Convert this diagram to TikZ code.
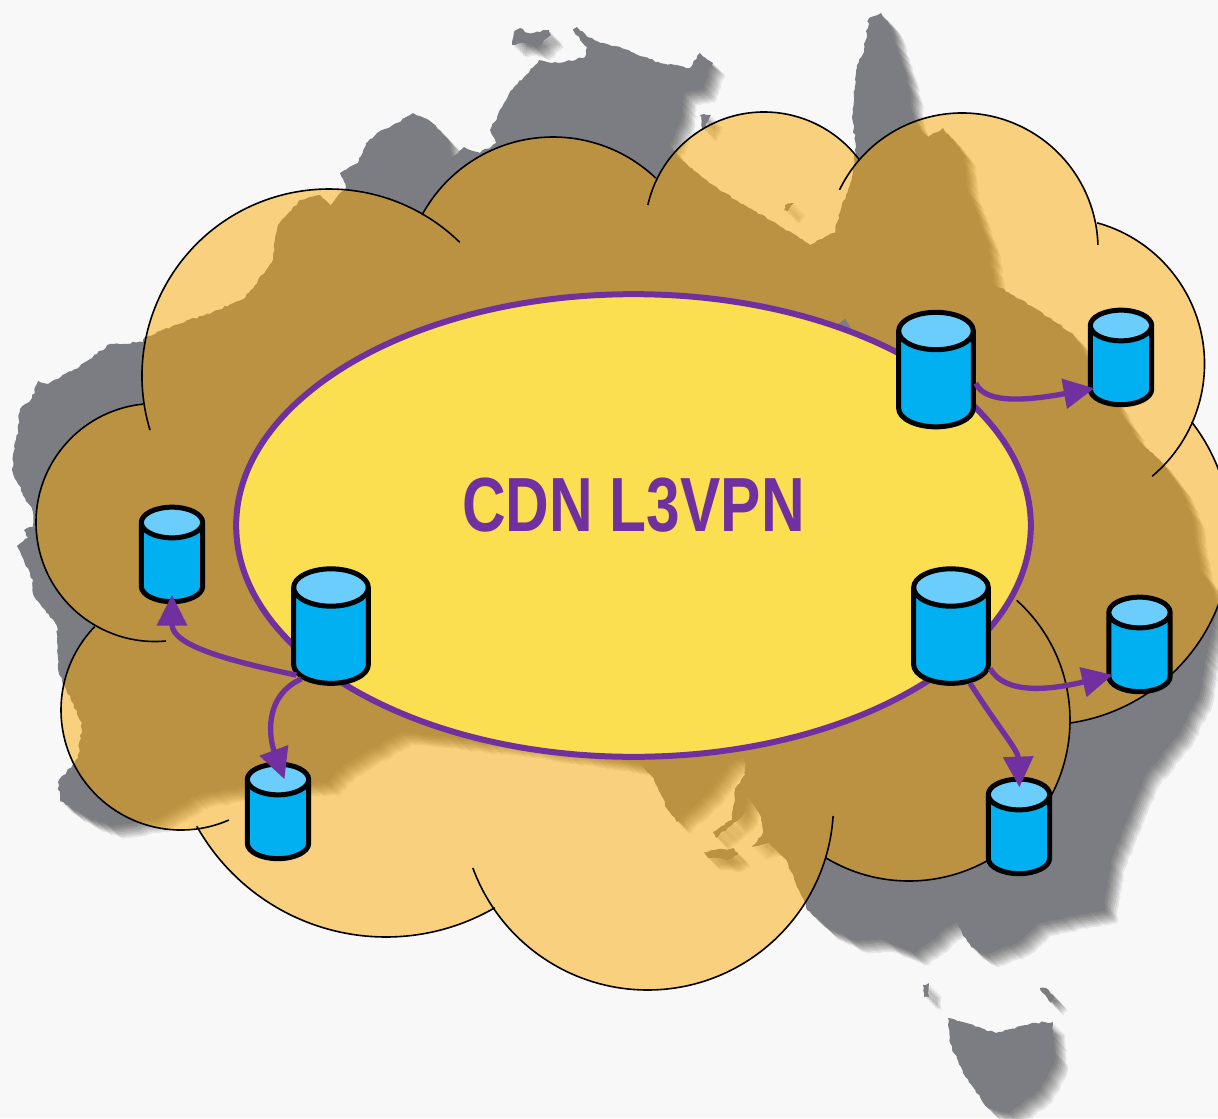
\documentclass[tikz,border=0pt]{standalone}
\usepackage{fontspec}
\setmainfont{Liberation Sans}
\usetikzlibrary{shapes.geometric,arrows.meta,decorations.pathmorphing}
\definecolor{pagebg}{HTML}{F8F8F8}
\definecolor{landgrey}{HTML}{7C7D82}
\definecolor{cloudtint}{RGB}{252,168,0}
\definecolor{ringfill}{HTML}{FBDF50}
\definecolor{vpnpurple}{HTML}{7030A0}
\definecolor{drumbody}{HTML}{00B0F0}
\definecolor{drumtop}{HTML}{6BCDFB}
\def\lobes{329/376/187/-196.8/-45.6, 553/286/149/-151.5/-46.4, 764/231/119/-167.4/-36.5,
  962/249/136/-154.2/-1.7, 1058/364/146.5/-74.5/50, 1043/537/188/-37.7/81.7,
  909/720/161/-48/121.2, 647.5/804/186/3.7/159.9, 386/720/217/59.9/150.7,
  181/710/120/66.5/224, 155/522.5/119/84.7/264.2}
\def\mapland{(143,342) -- (110,344) -- (80,366) -- (48,384) -- (38,381) -- (32,398) -- (20,409) -- (18,430) -- (13,455) -- (13,473) -- (22,492) -- (33,512)
  -- (33,527) -- (24,530) -- (28,538) -- (17,546) -- (33,580) -- (33,594) -- (57,626) -- (58,669) -- (65,687) -- (82,723) -- (78,758)
  -- (58,782) -- (60,801) -- (90,819) -- (110,826) -- (157,819) -- (197,795) -- (267,783) -- (327,783) -- (343,766) -- (400,732) -- (520,745)
  -- (639,763) -- (654,778) -- (668,810) -- (677,822) -- (708,793) -- (734,760) -- (745,757) -- (745,775) -- (735,790) -- (732,820) -- (713,832)
  -- (716,838) -- (732,825) -- (746,812) -- (748,797) -- (761,817) -- (763,833) -- (752,847) -- (769,843) -- (784,857) -- (799,890) -- (807,910)
  -- (826,927) -- (853,940) -- (883,940) -- (914,953) -- (929,943) -- (944,930) -- (956,922) -- (962,933) -- (971,947) -- (986,955) -- (1017,943)
  -- (1040,923) -- (1105,910) -- (1105,897) -- (1112,857) -- (1147,773) -- (1180,733) -- (1200,693) -- (1208,650) -- (1218,610) -- (1213,590)
  -- (1200,567) -- (1193,520) -- (1180,487) -- (1160,460) -- (1137,440) -- (1128,423) -- (1108,390) -- (1072,333) -- (1033,307) -- (993,283)
  -- (988,243) -- (967,187) -- (963,153) -- (943,128) -- (928,137) -- (918,127) -- (913,117) -- (911,93) -- (899,53) -- (891,27) -- (881,13)
  -- (869,18) -- (864,50) -- (856,70) -- (854,97) -- (852,117) -- (856,147) -- (852,177) -- (844,200) -- (834,233) -- (810,245) -- (781,227)
  -- (749,208) -- (709,183) -- (678,157) -- (670,147) -- (682,117) -- (684,93) -- (702,90) -- (713,63) -- (700,53) -- (690,68) -- (658,62)
  -- (620,47) -- (603,43) -- (587,37) -- (577,27) -- (573,30) -- (587,47) -- (585,57) -- (559,63) -- (539,60) -- (524,77) -- (514,87)
  -- (502,107) -- (490,130) -- (496,143) -- (480,153) -- (464,147) -- (452,157) -- (449,140) -- (429,120) -- (413,113) -- (397,123) -- (377,133)
  -- (366,143) -- (358,163) -- (340,173) -- (346,187) -- (330,205) -- (320,195) -- (300,200) -- (278,225) -- (272,262) -- (245,298) -- (205,315)
  -- (175,325) -- (145,337) -- cycle
  (514,32) -- (520,28) -- (528,33) -- (549,30) -- (551,35) -- (537,48) -- (524,43) -- (512,45) -- cycle
  (700,115) -- (711,115) -- (705,128) -- (702,128) -- cycle
  (785,205) -- (794,203) -- (788,211) -- (784,210) -- cycle
  (704,852) -- (734,848) -- (738,855) -- (727,860) -- (708,858) -- cycle
  (923,985) -- (929,983) -- (929,997) -- (924,997) -- cycle
  (1040,988) -- (1046,988) -- (1055,998) -- (1051,1003) -- cycle
  (948,1018) -- (963,1022) -- (996,1033) -- (1032,1023) -- (1053,1022) -- (1055,1060) -- (1040,1090) -- (1009,1113) -- (988,1108) -- (963,1073) -- (950,1043) -- cycle}
\begin{document}
\begin{tikzpicture}[x=0.75pt,y=-0.75pt,
      landedge/.style={decorate,decoration={random steps,segment length=2.4pt,amplitude=0.8pt}},
      cloudedge/.style={draw=black,line width=1.2pt},
      drum/.style={cylinder,shape border rotate=90,draw=black,line width=3.75pt,
        cylinder uses custom fill,cylinder body fill=drumbody,cylinder end fill=drumtop,aspect=0.5},
      bigdrum/.style={drum,inner sep=28pt,minimum width=56pt,minimum height=78pt},
      smalldrum/.style={drum,inner sep=23pt,minimum width=46pt,minimum height=56pt},
      linkarrow/.style={draw=vpnpurple,line width=4pt,-{Triangle[length=23pt,width=22pt]}}]
      \useasboundingbox (0,0) rectangle (1218,1118);
      \fill[pagebg] (0,0) rectangle (1218,1118);
      \foreach \d in {2,3.5,5,6.5,8,9.5,11,12.5}{
        \pgfmathsetseed{42}
        \path[landedge,shift={(\d,\d)},fill=black,opacity=0.07] \mapland;
      }
      \pgfmathsetseed{42}
      \path[landedge,fill=landgrey] \mapland;
      \path[fill=cloudtint,fill opacity=0.49]
        \foreach \cx/\cy/\rad/\from/\to in \lobes {(\cx,\cy) circle[radius=\rad]};
      \foreach \cx/\cy/\rad/\from/\to in \lobes {
        \draw[cloudedge] (\cx,\cy) ++(\from:\rad) arc[start angle=\from,end angle=\to,radius=\rad];
      }
      \path (633.5,525.5) node[ellipse,draw=vpnpurple,fill=ringfill,line width=4.5pt,inner sep=0pt,minimum width=596pt,minimum height=347pt] (vpnring) {};
      \path (633.5,505) node[xscale=0.787,font=\fontsize{57.6}{60}\selectfont\bfseries,text=vpnpurple] (vpnlabel) {CDN L3VPN};
      \path (936,389.5) node[bigdrum] (peNE) {};
      \path (951,646) node[bigdrum] (peSE) {};
      \path (331,646) node[bigdrum] (peSW) {};
      \path (1121,374) node[smalldrum] (ceNE) {};
      \path (1139.5,661) node[smalldrum] (ceE) {};
      \path (1019,843) node[smalldrum] (ceS) {};
      \path (172,571) node[smalldrum] (ceW) {};
      \path (278,828) node[smalldrum] (ceSW) {};
      \draw[linkarrow,shorten >=-5pt] (peNE.9) .. controls (985,405) and (1030,400) .. (ceNE.205);
      \draw[linkarrow,shorten >=-5pt] (peSE.330) .. controls (1005,695) and (1050,690) .. (ceE.205);
      \draw[linkarrow,shorten >=-8pt] (peSE.297) .. controls (1000,730) and (1018,750) .. (ceS.north);
      \draw[linkarrow,shorten >=-7pt] (peSW.220) .. controls (225,660) and (172,645) .. (ceW.south);
      \draw[linkarrow,shorten >=-14pt] (peSW.228) .. controls (262,697) and (270,740) .. (ceSW.north);
     \end{tikzpicture}
\end{document}
